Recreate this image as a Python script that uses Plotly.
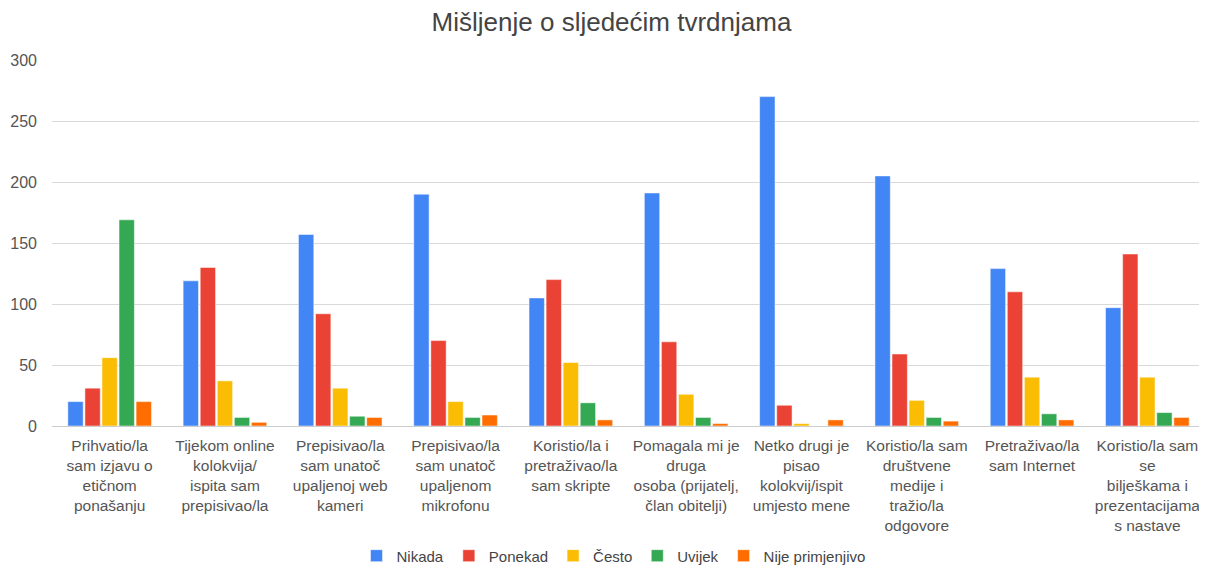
import plotly.graph_objects as go

# Kategorije (tvrdnje)
categories = [
    "Prihvatio/la<br>sam izjavu o<br>etičnom<br>ponašanju",
    "Tijekom online<br>kolokvija/<br>ispita sam<br>prepisivao/la",
    "Prepisivao/la<br>sam unatoč<br>upaljenoj web<br>kameri",
    "Prepisivao/la<br>sam unatoč<br>upaljenom<br>mikrofonu",
    "Koristio/la i<br>pretraživao/la<br>sam skripte",
    "Pomagala mi je<br>druga<br>osoba (prijatelj,<br>član obitelji)",
    "Netko drugi je<br>pisao<br>kolokvij/ispit<br>umjesto mene",
    "Koristio/la sam<br>društvene<br>medije i<br>tražio/la<br>odgovore",
    "Pretraživao/la<br>sam Internet",
    "Koristio/la sam<br>se<br>bilješkama i<br>prezentacijama<br>s nastave",
]

nikada = [20, 119, 157, 190, 105, 191, 270, 205, 129, 97]
ponekad = [31, 130, 92, 70, 120, 69, 17, 59, 110, 141]
cesto = [56, 37, 31, 20, 52, 26, 2, 21, 40, 40]
uvijek = [169, 7, 8, 7, 19, 7, 0, 7, 10, 11]
nije = [20, 3, 7, 9, 5, 2, 5, 4, 5, 7]

series = [
    ("Nikada", nikada, "#4285F4"),
    ("Ponekad", ponekad, "#EA4335"),
    ("Često", cesto, "#FBBC04"),
    ("Uvijek", uvijek, "#34A853"),
    ("Nije primjenjivo", nije, "#FF6D01"),
]

fig = go.Figure()
for name, vals, color in series:
    fig.add_trace(go.Bar(
        x=categories, y=vals, name=name,
        marker=dict(color=color, line=dict(color="white", width=0.5)),
    ))

# the page body has an 8px margin, so margins are shifted to compensate
fig.update_layout(
    width=1207, height=565,
    barmode="group", bargap=0.26, bargroupgap=0.1,
    paper_bgcolor="white", plot_bgcolor="white",
    font=dict(family="Liberation Sans, Arial, sans-serif", size=15, color="#444444"),
    title=dict(text="Mišljenje o sljedećim tvrdnjama", x=0.5, xanchor="center",
               y=0.975, yanchor="middle",
               font=dict(size=26, color="#444444")),
    margin=dict(l=44, r=10, t=52, b=147, autoexpand=False),
    xaxis=dict(tickangle=0, tickfont=dict(size=15.5, color="#555555"),
               showgrid=False, showline=False, ticks="", ticklabelstandoff=8,
               automargin=False),
    yaxis=dict(range=[0, 300], dtick=50, gridcolor="#d9d9d9", zeroline=True,
               zerolinecolor="#cccccc", zerolinewidth=1, automargin=False,
               tickfont=dict(size=16, color="#555555"), ticks="", ticklabelstandoff=14),
    legend=dict(orientation="h", x=0.487, xanchor="center", y=-0.355, yanchor="middle",
                font=dict(size=15, color="#444444"), itemwidth=30,
                tracegroupgap=0),
)

fig.write_html("out.html")
